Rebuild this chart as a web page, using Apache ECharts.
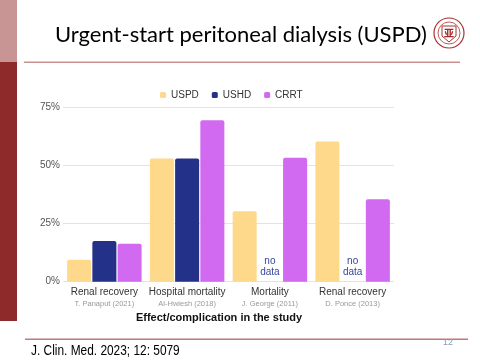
<!DOCTYPE html>
<html><head><meta charset="utf-8">
<style>html,body{margin:0;padding:0;background:#fff}#c{width:480px;height:360px}</style>
<script src="https://cdn.jsdelivr.net/npm/echarts@6/dist/echarts.min.js"></script>
</head><body><div id="c"></div>
<script>
const categories = ['Renal recovery', 'Hospital mortality', 'Mortality', 'Renal recovery'];
const studies = ['T. Panaput (2021)', 'Al-Hwiesh (2018)', 'J. George (2011)', 'D. Ponce (2013)'];
const seriesNames = ['USPD', 'USHD', 'CRRT'];
const uspd = [9.4, 53, 30.3, 60.3];
const ushd = [17.5, 53, null, null];
const crrt = [16.3, 69.4, 53.3, 35.5];
const yTicks = [0, 25, 50, 75];
const colors = ['#fed88b', '#233188', '#d16af0'];

const chart = echarts.init(document.getElementById('c'), null, {renderer: 'canvas'});
const font = 'Liberation Sans, Arial, sans-serif';

function mk(name, vals, color) {
  return {
    name, type: 'bar', barGap: '5%', barCategoryGap: '10%',
    itemStyle: {color, borderRadius: [2, 2, 0, 0]},
    data: vals.map(v => v === null ? {
      value: 0,
      label: {show: true, position: 'top', distance: 4, formatter: 'no\ndata',
        color: '#34489a', fontSize: 10, lineHeight: 11, fontFamily: font}
    } : v)
  };
}

chart.setOption({
  animation: false,
  backgroundColor: '#fff',
  color: colors,
  legend: {
    data: seriesNames, left: 155, top: 85, itemWidth: 6, itemHeight: 6, itemGap: 13,
    icon: 'roundRect',
    textStyle: {fontSize: 10, color: '#333', fontFamily: font}
  },
  grid: {left: 63, width: 331, top: 107.3, bottom: 78.3},
  xAxis: {
    type: 'category', data: categories,
    axisLine: {show: false}, axisTick: {show: false},
    axisLabel: {
      margin: 5, interval: 0,
      formatter: (v, i) => '{a|' + v + '}\n{b|' + studies[i] + '}',
      rich: {
        a: {fontSize: 10, color: '#333', fontFamily: font, lineHeight: 12},
        b: {fontSize: 7.5, color: '#999', fontFamily: font, lineHeight: 10}
      }
    }
  },
  yAxis: {
    type: 'value', min: yTicks[0], max: yTicks[yTicks.length - 1], interval: 25,
    axisLine: {show: false}, axisTick: {show: false},
    axisLabel: {formatter: '{value}%', fontSize: 10, color: '#555', margin: 3, fontFamily: font},
    splitLine: {lineStyle: {color: '#e3e3e3', width: 1}}
  },
  series: [mk(seriesNames[0], uspd, colors[0]), mk(seriesNames[1], ushd, colors[1]), mk(seriesNames[2], crrt, colors[2])],
  graphic: [
    {type: 'rect', shape: {x: 0, y: 0, width: 17, height: 62}, style: {fill: '#c99494'}, silent: true},
    {type: 'rect', shape: {x: 0, y: 62, width: 17, height: 259}, style: {fill: '#8e2a2a'}, silent: true},
    {type: 'rect', shape: {x: 24, y: 61.5, width: 436, height: 1.5}, style: {fill: '#c99090'}, silent: true},
    {type: 'rect', shape: {x: 25, y: 338.5, width: 443, height: 1.5}, style: {fill: '#c07878'}, silent: true},
    {type: 'text', x: 55, y: 35, style: {text: 'Urgent-start peritoneal dialysis (USPD)', fontSize: 22, fontFamily: 'Lato, Carlito, sans-serif', fill: '#000', verticalAlign: 'middle'}},
    {type: 'text', x: 31, y: 351, scaleX: 0.82, style: {text: 'J. Clin. Med. 2023; 12: 5079', fontSize: 14.5, fontFamily: font, fill: '#000', verticalAlign: 'middle'}},
    {type: 'text', left: 443, top: 338, style: {text: '12', fontSize: 9, fontFamily: font, fill: '#8b9bb8'}},
    {type: 'text', x: 219, y: 318, style: {text: 'Effect/complication in the study', fontSize: 11, fontWeight: 'bold', fontFamily: font, fill: '#111', align: 'center', verticalAlign: 'middle'}},
    {type: 'circle', shape: {cx: 449, cy: 33, r: 15}, style: {fill: '#fff', stroke: '#a83232', lineWidth: 1.2}},
    {type: 'circle', shape: {cx: 449, cy: 33, r: 11}, style: {fill: 'none', stroke: '#a83232', lineWidth: 0.8}},
    {type: 'polygon', shape: {points: [[442, 26], [456, 26], [456, 36], [449, 42], [442, 36]]}, style: {fill: '#fff', stroke: '#a83232', lineWidth: 1}},
    {type: 'text', x: 449, y: 33, style: {text: '亚', fontSize: 10, fontFamily: 'Noto Sans CJK TC', fill: '#a02828', align: 'center', verticalAlign: 'middle', fontWeight: 'bold'}}
  ]
});
</script></body></html>
